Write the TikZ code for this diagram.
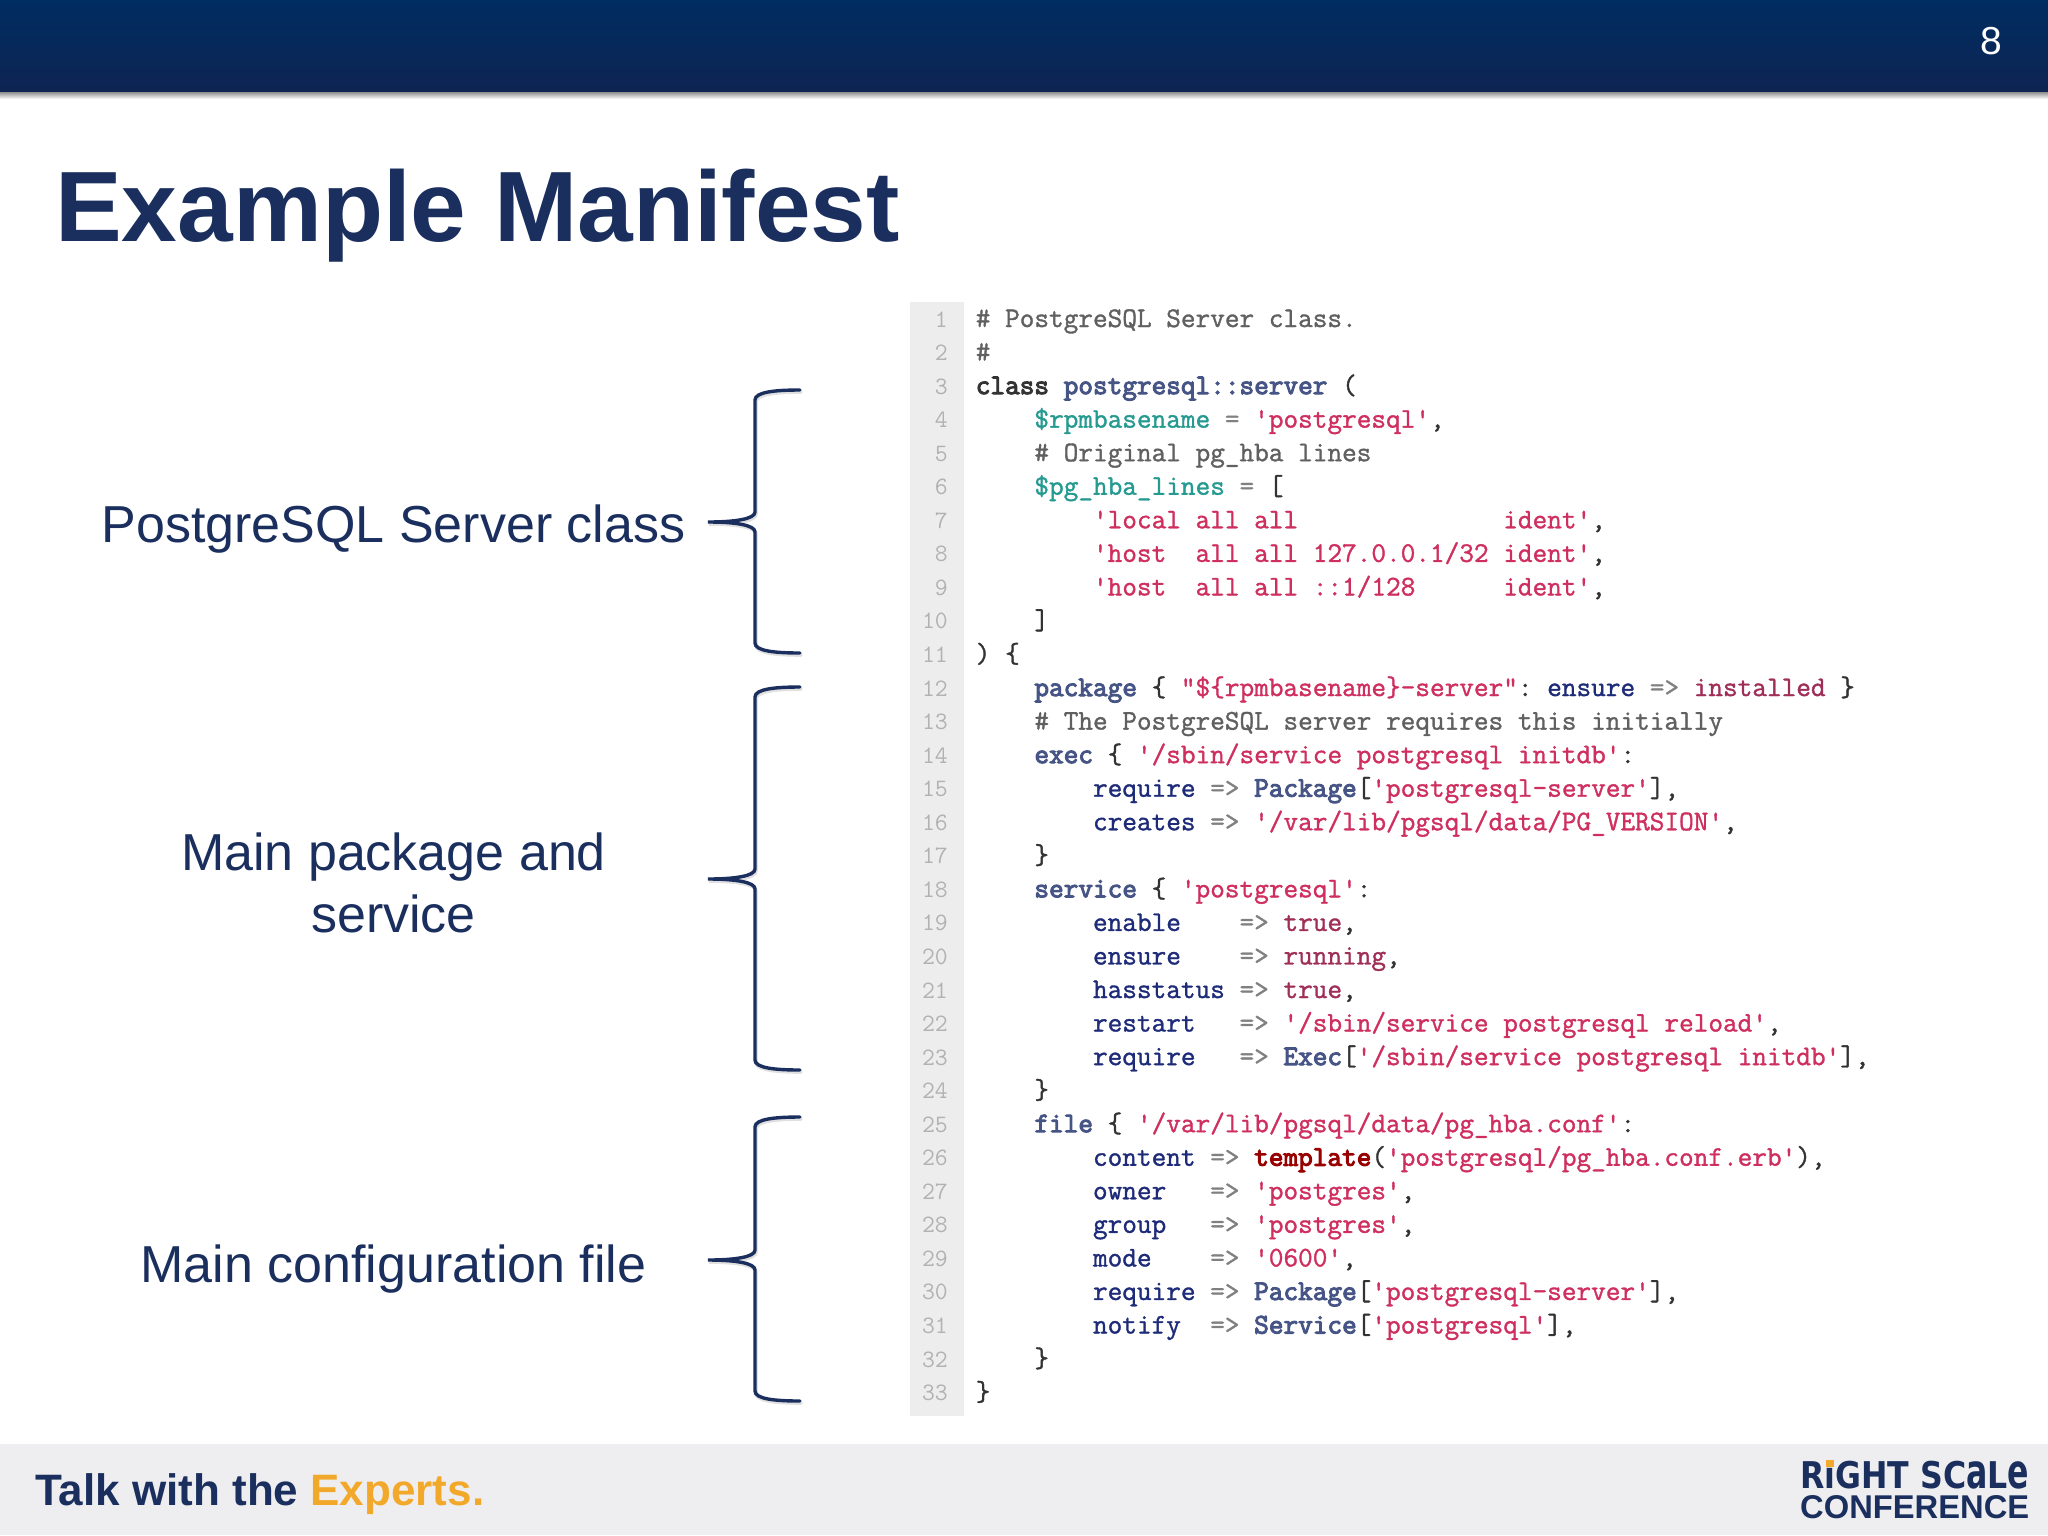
\documentclass[tikz,border=0pt]{standalone}
\usepackage{fontspec}
\setmainfont{Liberation Sans}
\usetikzlibrary{positioning}
\definecolor{navy}{HTML}{1B2F5E}
\definecolor{bartop}{HTML}{002D62}
\definecolor{barbot}{HTML}{0E2452}
\definecolor{footgray}{HTML}{EEEEF0}
\definecolor{amber}{HTML}{F2A92B}
\definecolor{gutter}{HTML}{EDEDED}
\definecolor{cmtgray}{HTML}{606060}
\definecolor{strpink}{HTML}{CF2F5F}
\definecolor{attnavy}{HTML}{1E2B78}
\definecolor{clsblue}{HTML}{465585}
\definecolor{tealvar}{HTML}{259A90}
\definecolor{valmauve}{HTML}{A02F58}
\newcommand{\inkon}[1]{\special{pdf:code 2 Tr #1 w}}
\newcommand{\inkoff}{\special{pdf:code 0 Tr}}
\newcommand{\boldcode}[1]{\inkon{1.0}#1\inkon{0.35}}
\newcommand{\cmt}[1]{\textcolor{cmtgray}{#1}}
\newcommand{\kwd}[1]{\textcolor{clsblue}{\boldcode{#1}}}
\newcommand{\strg}[1]{\textcolor{strpink}{#1}}
\newcommand{\att}[1]{\textcolor{attnavy}{#1}}
\newcommand{\tvar}[1]{\textcolor{tealvar}{#1}}
\newcommand{\val}[1]{\textcolor{valmauve}{#1}}
\newcommand{\arw}{\textcolor{gray}{=>}}
\newcommand{\eqs}{\textcolor{gray}{=}}
\newcommand{\bracepath}[3]{(800,#1) .. controls (775,#1) and (755,#1+2) .. (755,#1+10) -- (755,#2-10)
  .. controls (755,#2-3) and (735,#2) .. (708,#2) .. controls (735,#2) and (755,#2+3) .. (755,#2+10)
  -- (755,#3-10) .. controls (755,#3-2) and (775,#3) .. (800,#3)}
\tikzset{
labeltext/.style={text=navy,align=center,inner sep=0,font=\fontsize{52}{62.6}\selectfont},
codeline/.style={anchor=base west,inner sep=0,text=black!80,font=\ttfamily\fontsize{28.45}{30}\selectfont\frenchspacing},
lineno/.style={anchor=base east,inner sep=0,text=black!30,font=\ttfamily\fontsize{25}{30}\selectfont},
bracelink/.style={draw=navy,line width=3.4pt,line cap=round},
braceshadow/.style={draw=black!12,line width=3.6pt,line cap=round,xshift=1pt,yshift=-2pt}
}
\begin{document}
\begin{tikzpicture}[x=1pt,y=-1pt]
\useasboundingbox (0,0) rectangle (2048,1535);
\fill[white] (0,0) rectangle (2048,1535);

\shade[top color=black!50,bottom color=white] (0,91) rectangle (2048,99);
\shade[top color=bartop,bottom color=barbot] (0,0) rectangle (2048,91);
\node[text=white,inner sep=0,font=\fontsize{39}{39}\selectfont] (pagenum) at (1991,41) {8};

\node[anchor=base west,inner sep=0,text=navy,font=\bfseries\fontsize{100}{100}\selectfont] (title) at (55,241) {Example Manifest};

\fill[gutter] (910,302) rectangle (964,1416);
\foreach \n/\txt in {
1/{\cmt{\# PostgreSQL Server class.}},
2/{\cmt{\#}},
3/{\boldcode{class} \kwd{postgresql::server} (},
4/{~~~~\tvar{\$rpmbasename} \eqs{} \strg{'postgresql'},},
5/{~~~~\cmt{\# Original pg\_hba lines}},
6/{~~~~\tvar{\$pg\_hba\_lines} \eqs{} [},
7/{~~~~~~~~\strg{'local all all~~~~~~~~~~~~~~ident'},},
8/{~~~~~~~~\strg{'host~~all all 127.0.0.1/32 ident'},},
9/{~~~~~~~~\strg{'host~~all all ::1/128~~~~~~ident'},},
10/{~~~~]},
11/{) \{},
12/{~~~~\kwd{package} \{ \strg{"\$\{rpmbasename\}-server"}: \att{ensure} \arw{} \val{installed} \}},
13/{~~~~\cmt{\# The PostgreSQL server requires this initially}},
14/{~~~~\kwd{exec} \{ \strg{'/sbin/service postgresql initdb'}:},
15/{~~~~~~~~\att{require} \arw{} \kwd{Package}[\strg{'postgresql-server'}],},
16/{~~~~~~~~\att{creates} \arw{} \strg{'/var/lib/pgsql/data/PG\_VERSION'},},
17/{~~~~\}},
18/{~~~~\kwd{service} \{ \strg{'postgresql'}:},
19/{~~~~~~~~\att{enable}~~~~\arw{} \val{true},},
20/{~~~~~~~~\att{ensure}~~~~\arw{} \val{running},},
21/{~~~~~~~~\att{hasstatus} \arw{} \val{true},},
22/{~~~~~~~~\att{restart}~~~\arw{} \strg{'/sbin/service postgresql reload'},},
23/{~~~~~~~~\att{require}~~~\arw{} \kwd{Exec}[\strg{'/sbin/service postgresql initdb'}],},
24/{~~~~\}},
25/{~~~~\kwd{file} \{ \strg{'/var/lib/pgsql/data/pg\_hba.conf'}:},
26/{~~~~~~~~\att{content} \arw{} \textcolor{red!60!black}{\boldcode{template}}(\strg{'postgresql/pg\_hba.conf.erb'}),},
27/{~~~~~~~~\att{owner}~~~\arw{} \strg{'postgres'},},
28/{~~~~~~~~\att{group}~~~\arw{} \strg{'postgres'},},
29/{~~~~~~~~\att{mode}~~~~\arw{} \strg{'0600'},},
30/{~~~~~~~~\att{require} \arw{} \kwd{Package}[\strg{'postgresql-server'}],},
31/{~~~~~~~~\att{notify}~~\arw{} \kwd{Service}[\strg{'postgresql'}],},
32/{~~~~\}},
33/{\}}}{
\node[lineno] (num\n) at (948,{327+33.55*(\n-1)}) {\n};
\node[codeline] (code\n) at (975.6,{327+33.55*(\n-1)}) {\inkon{0.35}\txt\inkoff};
}

\draw[braceshadow] \bracepath{390}{522}{653};
\draw[bracelink] \bracepath{390}{522}{653};
\draw[braceshadow] \bracepath{687}{879}{1070};
\draw[bracelink] \bracepath{687}{879}{1070};
\draw[braceshadow] \bracepath{1117}{1260}{1401};
\draw[bracelink] \bracepath{1117}{1260}{1401};

\node[labeltext,anchor=base] (serverlabel) at (393.5,542) {PostgreSQL Server class};
\node[labeltext] (packagelabel) at (393.5,883) {Main package and\\service};
\node[labeltext,anchor=base] (configlabel) at (393.5,1282) {Main configuration file};

\fill[footgray] (0,1444) rectangle (2048,1535);
\node[anchor=base west,inner sep=0,text=navy,font=\bfseries\fontsize{44}{44}\selectfont] (talk) at (35,1505) {Talk with the \textcolor{amber}{Experts.}};
\node[anchor=north west,inner sep=0,text=navy,font=\fontspec{DejaVu Sans}\bfseries] (logotop) at (1800,1460) {\resizebox{229pt}{28pt}{RiGHT SC\scalebox{1}[1.3]{a}L\scalebox{1}[1.3]{e}}};
\fill[amber] (1826,1460) rectangle (1834,1467);
\node[anchor=north west,inner sep=0,text=navy,font=\bfseries] (logobot) at (1800,1495) {\resizebox{229pt}{23pt}{CONFERENCE}};
\end{tikzpicture}
\end{document}
